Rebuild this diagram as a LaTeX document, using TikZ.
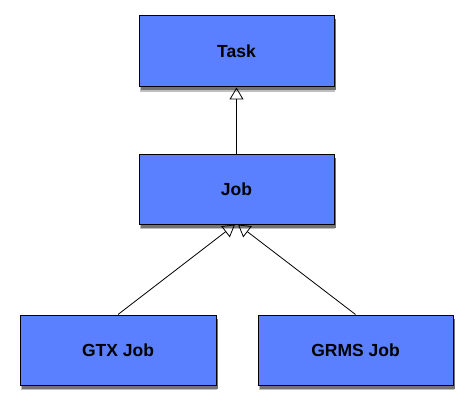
\documentclass[tikz,border=0pt]{standalone}
\usepackage{fontspec}
\setmainfont{Liberation Sans}
\usepackage{tikz}
\usetikzlibrary{arrows.meta,shadows}
\usepackage{xcolor}
\definecolor{boxblue}{RGB}{91,128,255}

\begin{document}
\begin{tikzpicture}[x=1pt,y=1pt,>={Triangle[open,width=14pt,length=12pt]},line width=0.8pt]
  \tikzstyle{cls}=[rectangle,draw,line width=1pt,fill=boxblue,minimum width=195pt,minimum height=70pt,
    font=\fontsize{17.5}{20}\selectfont\bfseries,
    general shadow={shadow xshift=1pt,shadow yshift=-5pt,fill=black!25},
    general shadow={shadow xshift=2pt,shadow yshift=-3.5pt,fill=black!55}]
  \useasboundingbox (0,0) rectangle (473,410);
  \node(task) at (236.5,358.5) [cls,minimum height=71pt]{Task};
  \node(job) at (236.5,220.5) [cls,minimum height=69pt]{Job};
  \node(gtx-job) at (118,60) [cls,minimum width=196pt]{GTX Job};
  \node(grms-job) at (355.5,60) [cls]{GRMS Job};
  \draw[->](job.north)--(task.south);
  \draw[->](gtx-job.north)--([xshift=-1.5pt]job.south);
  \draw[->](grms-job.north)--([xshift=1.5pt]job.south);
\end{tikzpicture}
\end{document}
